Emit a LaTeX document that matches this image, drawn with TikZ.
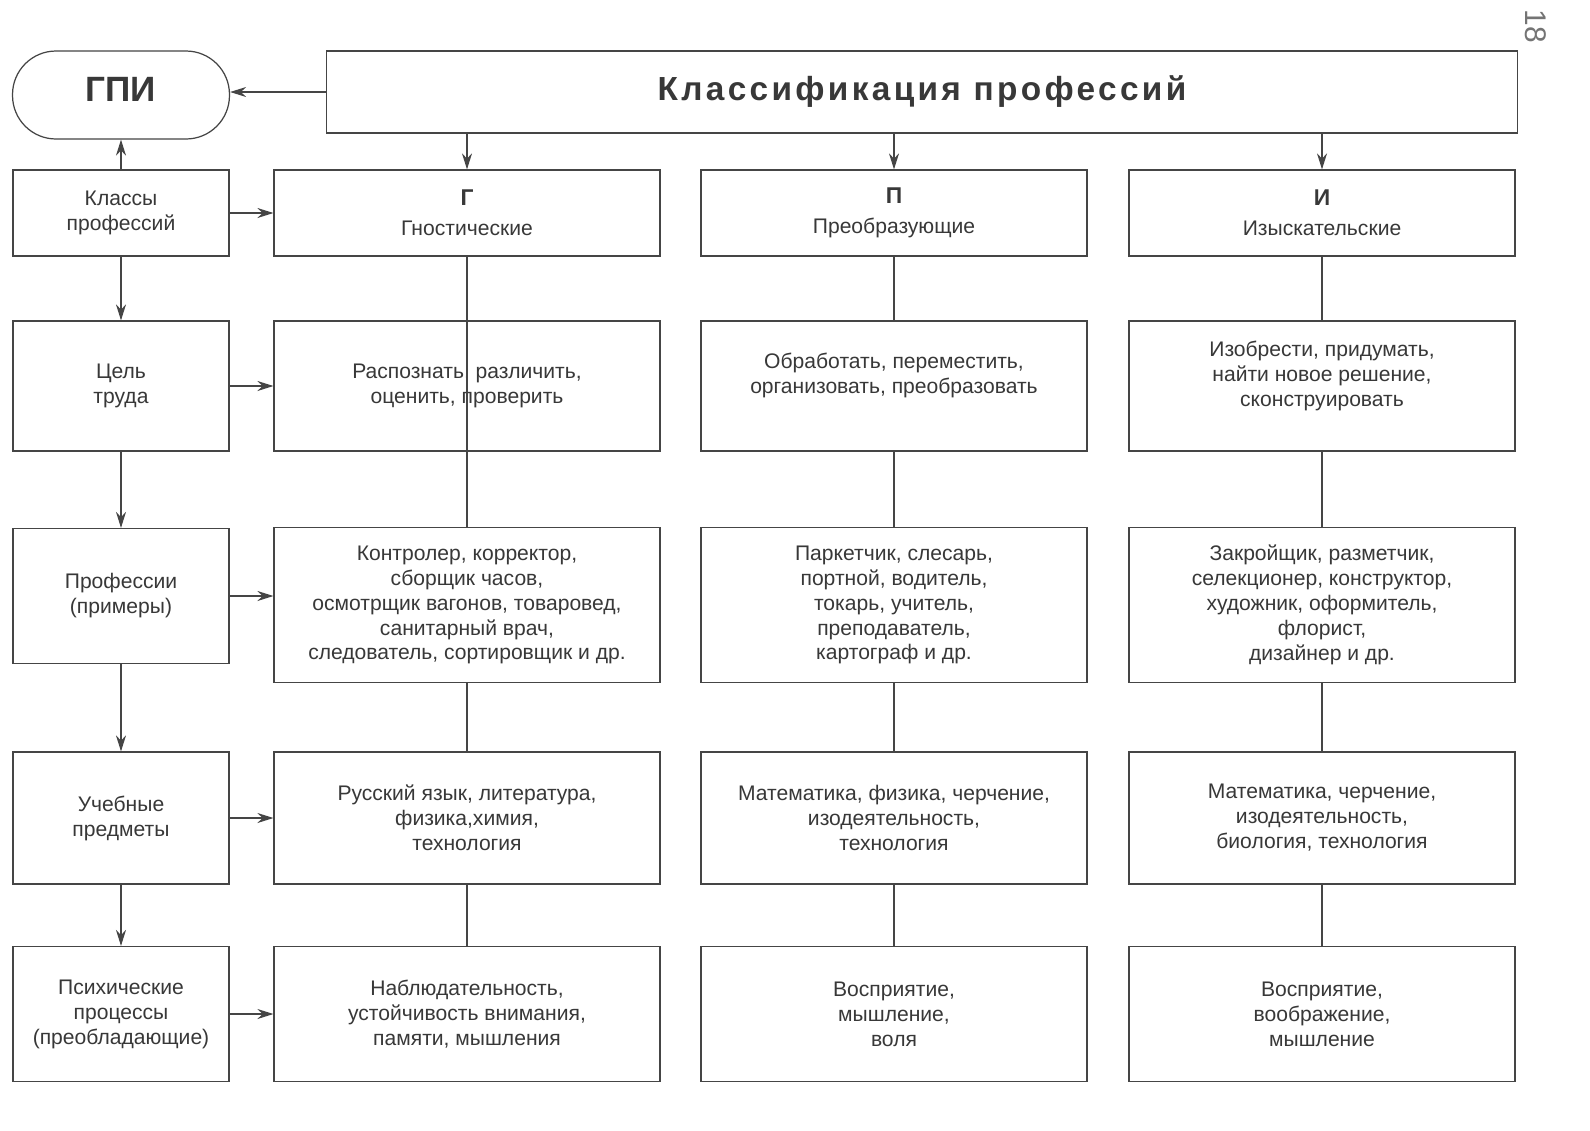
\documentclass[tikz,border=0pt]{standalone}
\usepackage{fontspec}
\setmainfont{Liberation Sans}
\usetikzlibrary{arrows.meta,positioning}
\definecolor{ink}{HTML}{383838}
\definecolor{edge}{HTML}{454545}
\tikzset{
  box/.style={draw=edge, line width=0.7pt, align=center, inner sep=2pt, text=ink, font=\fontsize{12}{14.2}\selectfont},
  lbox/.style={box, minimum width=4.32cm},
  cbox/.style={box, minimum width=7.72cm},
  fl/.style={-{Stealth[length=3.2mm,width=2mm]}, line width=0.7pt, draw=edge},
  ln/.style={line width=0.7pt, draw=edge},
}

\begin{document}
\begin{tikzpicture}[x=0.02cm, y=-0.02cm]
  \fill[white] (0,0) rectangle (1590,1130);
  \useasboundingbox (0,0) rectangle (1590,1130);
  % top row
  \node[box, minimum width=4.34cm, minimum height=1.76cm, rounded corners=0.87cm, text depth=6pt, font=\fontsize{20}{24}\selectfont\bfseries] (gpi) at (121,95) {ГПИ};
  \node[box, minimum width=23.82cm, minimum height=1.64cm, font=\fontsize{19}{23}\selectfont\bfseries\addfontfeature{LetterSpace=10}] (title) at (922,92) {Классификация профессий};
  \node[text=ink!70, rotate=-90, font=\fontsize{17}{20}\selectfont] (pgno) at (1536,26) {18};
  % left column
  \node[lbox, minimum height=1.72cm] (l1) at (121,213) {Классы\\профессий};
  \node[lbox, minimum height=2.6cm] (l2) at (121,386) {Цель\\труда};
  \node[lbox, minimum height=2.7cm] (l3) at (121,596) {Профессии\\(примеры)};
  \node[lbox, minimum height=2.64cm] (l4) at (121,818) {Учебные\\предметы};
  \node[lbox, minimum height=2.7cm] (l5) at (121,1014) {Психические\\процессы\\(преобладающие)};
  % classes
  \node[cbox, minimum height=1.72cm] (g1) at (467,213) {{\fontsize{13}{16}\selectfont\bfseries Г}\\[3pt]Гностические};
  \node[cbox, minimum height=1.72cm] (p1) at (894,213) {{\fontsize{13}{16}\selectfont\bfseries П}\\[3pt]Преобразующие};
  \node[cbox, minimum height=1.72cm] (i1) at (1322,213) {{\fontsize{13}{16}\selectfont\bfseries И}\\[3pt]Изыскательские};
  % aims
  \node[cbox, minimum height=2.6cm] (g2) at (467,386) {Распознать, различить,\\оценить, проверить};
  \node[cbox, minimum height=2.6cm] (p2) at (894,386) {Обработать, переместить,\\организовать, преобразовать\\~};
  \node[cbox, minimum height=2.6cm] (i2) at (1322,386) {Изобрести, придумать,\\найти новое решение,\\сконструировать\\~};
  % examples
  \node[cbox, minimum height=3.1cm] (g3) at (467,605) {Контролер, корректор,\\сборщик часов,\\осмотрщик вагонов, товаровед,\\санитарный врач,\\следователь, сортировщик и др.};
  \node[cbox, minimum height=3.1cm] (p3) at (894,605) {Паркетчик, слесарь,\\портной, водитель,\\токарь, учитель,\\преподаватель,\\картограф и др.};
  \node[cbox, minimum height=3.1cm] (i3) at (1322,605) {Закройщик, разметчик,\\селекционер, конструктор,\\художник, оформитель,\\флорист,\\дизайнер и др.};
  % subjects
  \node[cbox, minimum height=2.64cm] (g4) at (467,818) {Русский язык, литература,\\физика,химия,\\технология};
  \node[cbox, minimum height=2.64cm] (p4) at (894,818) {Математика, физика, черчение,\\изодеятельность,\\технология};
  \node[cbox, minimum height=2.64cm] (i4) at (1322,818) {Математика, черчение,\\изодеятельность,\\биология, технология};
  % processes
  \node[cbox, minimum height=2.7cm] (g5) at (467,1014) {Наблюдательность,\\устойчивость внимания,\\памяти, мышления};
  \node[cbox, minimum height=2.7cm] (p5) at (894,1014) {Восприятие,\\мышление,\\воля};
  \node[cbox, minimum height=2.7cm] (i5) at (1322,1014) {Восприятие,\\воображение,\\мышление};
  % connectors
  \draw[fl] (title.west) -- (title.west -| gpi.east);
  \draw[fl] (l1.north) -- (gpi.south);
  \foreach \c in {g,p,i}
    \draw[fl] (title.south -| \c1.north) -- (\c1.north);
  \foreach \r in {1,...,5}
    \draw[fl] (l\r.east) -- (l\r.east -| g\r.west);
  \foreach \r/\s in {1/2,2/3,3/4,4/5}
    \draw[fl] (l\r.south) -- (l\s.north);
  \draw[ln] (g1.south) -- (g3.north);
  \foreach \r/\s in {3/4,4/5}
    \draw[ln] (g\r.south) -- (g\s.north);
  \foreach \c in {p,i}
    \foreach \r/\s in {1/2,2/3,3/4,4/5}
      \draw[ln] (\c\r.south) -- (\c\s.north);
\end{tikzpicture}
\end{document}
